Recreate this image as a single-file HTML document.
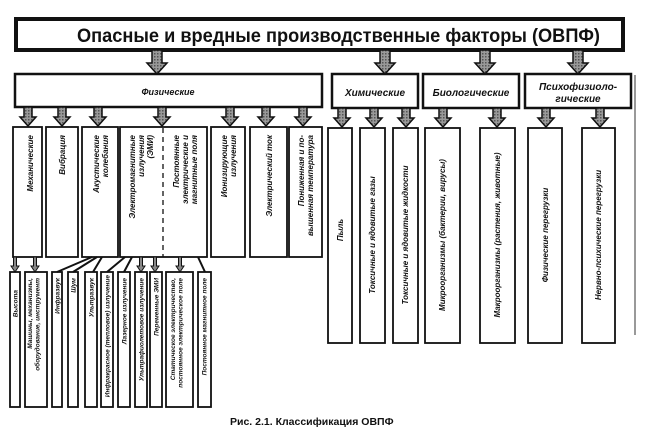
<!DOCTYPE html>
<html><head><meta charset="utf-8"><style>
html,body{margin:0;padding:0;background:#fff;}
svg{display:block;}
text{font-family:"Liberation Sans",sans-serif;font-weight:bold;fill:#111;}
.i{font-style:italic;}
</style></head><body>
<svg width="660" height="445" viewBox="0 0 660 445" xmlns="http://www.w3.org/2000/svg">
<defs>
<pattern id="h" width="3" height="3" patternUnits="userSpaceOnUse"><rect width="3" height="3" fill="#999"/><rect width="1.5" height="1.5" fill="#555"/></pattern>
<g id="A"><path d="M-5,0 H5 V13 H10 L0,24 L-10,13 H-5 Z" fill="url(#h)" stroke="#111" stroke-width="1.5"/></g>
<g id="a"><path d="M-4,0 H4 V10 H8 L0,19 L-8,10 H-4 Z" fill="url(#h)" stroke="#111" stroke-width="1.5"/></g>
<g id="s"><path d="M-1.5,0 H1.5 V9 H4 L0,15 L-4,9 H-1.5 Z" fill="#888" stroke="#111" stroke-width="1"/></g>
</defs>
<g fill="#fff" stroke="#111">
<rect x="16" y="19" width="607" height="31" stroke-width="4"/>
<rect x="15" y="74" width="307" height="33" stroke-width="2.5"/>
<rect x="332" y="74" width="86" height="34" stroke-width="2.5"/>
<rect x="423" y="74" width="96" height="34" stroke-width="2.5"/>
<rect x="525" y="74" width="106" height="34" stroke-width="2.5"/>
</g>
<text x="77" y="42" font-size="19" textLength="523" lengthAdjust="spacingAndGlyphs">Опасные и вредные производственные факторы (ОВПФ)</text>
<text class="i" x="168" y="95" text-anchor="middle" font-size="9">Физические</text>
<text class="i" x="375" y="96" text-anchor="middle" font-size="10">Химические</text>
<text class="i" x="471" y="96" text-anchor="middle" font-size="10">Биологические</text>
<text class="i" x="578" y="90" text-anchor="middle" font-size="10">Психофизиоло-</text>
<text class="i" x="578" y="102" text-anchor="middle" font-size="10">гические</text>
<use href="#A" x="157" y="50"/><use href="#A" x="385" y="50"/><use href="#A" x="485" y="50"/><use href="#A" x="578" y="50"/>
<g>
<use href="#a" x="28" y="107"/><use href="#a" x="62" y="107"/><use href="#a" x="98" y="107"/><use href="#a" x="162" y="107"/><use href="#a" x="230" y="107"/><use href="#a" x="266" y="107"/><use href="#a" x="303" y="107"/>
<use href="#a" x="342" y="108"/><use href="#a" x="374" y="108"/><use href="#a" x="406" y="108"/><use href="#a" x="443" y="108"/><use href="#a" x="497" y="108"/><use href="#a" x="546" y="108"/><use href="#a" x="600" y="108"/>
</g>
<g fill="#fff" stroke="#111" stroke-width="1.8">
<rect x="13" y="127" width="29" height="130"/>
<rect x="46" y="127" width="32" height="130"/>
<rect x="82" y="127" width="36" height="130"/>
<rect x="120" y="127" width="87" height="130"/>
<rect x="211" y="127" width="34" height="130"/>
<rect x="250" y="127" width="37" height="130"/>
<rect x="289" y="127" width="33" height="130"/>
<rect x="328" y="128" width="24" height="215"/>
<rect x="360" y="128" width="25" height="215"/>
<rect x="393" y="128" width="25" height="215"/>
<rect x="425" y="128" width="35" height="215"/>
<rect x="480" y="128" width="35" height="215"/>
<rect x="528" y="128" width="34" height="215"/>
<rect x="582" y="128" width="33" height="215"/>
<rect x="10" y="272" width="10" height="135"/>
<rect x="25" y="272" width="22" height="135"/>
<rect x="52" y="272" width="10" height="135"/>
<rect x="68" y="272" width="10" height="135"/>
<rect x="85" y="272" width="12" height="135"/>
<rect x="101" y="272" width="12" height="135"/>
<rect x="118" y="272" width="12" height="135"/>
<rect x="135" y="272" width="12" height="135"/>
<rect x="150" y="272" width="12" height="135"/>
<rect x="166" y="272" width="27" height="135"/>
<rect x="198" y="272" width="13" height="135"/>
</g>
<line x1="163" y1="128" x2="163" y2="257" stroke="#111" stroke-width="1.3" stroke-dasharray="5,4"/>
<line x1="635" y1="75" x2="635" y2="335" stroke="#333" stroke-width="1"/>
<g stroke="#111" stroke-width="2">
<line x1="92" y1="257" x2="57" y2="272"/><line x1="97" y1="257" x2="73" y2="272"/><line x1="102" y1="257" x2="93" y2="272"/>
<line x1="125" y1="257" x2="107" y2="272"/><line x1="132" y1="257" x2="124" y2="272"/><line x1="198" y1="257" x2="205" y2="272"/>
</g>
<use href="#s" x="15" y="257"/><use href="#s" x="35" y="257"/><use href="#s" x="141" y="257"/><use href="#s" x="155" y="257"/><use href="#s" x="180" y="257"/>
<g class="i" font-size="8" text-anchor="end">
<text transform="translate(30,135) rotate(-90)" dy="3">Механические</text>
<text transform="translate(62,135) rotate(-90)" dy="3">Вибрация</text>
<text transform="translate(100,135) rotate(-90)"><tspan x="0" dy="-1">Акустические</tspan><tspan x="0" dy="9">колебания</tspan></text>
<text transform="translate(141,135) rotate(-90)"><tspan x="0" dy="-6">Электромагнитные</tspan><tspan x="0" dy="9">излучения</tspan><tspan x="0" dy="9">(ЭМИ)</tspan></text>
<text transform="translate(185,135) rotate(-90)"><tspan x="0" dy="-6">Постоянные</tspan><tspan x="0" dy="9">электрические и</tspan><tspan x="0" dy="9">магнитные поля</tspan></text>
<text transform="translate(228,135) rotate(-90)"><tspan x="0" dy="-1">Ионизирующие</tspan><tspan x="0" dy="9">излучения</tspan></text>
<text transform="translate(269,135) rotate(-90)" dy="3">Электрический ток</text>
<text transform="translate(305,135) rotate(-90)"><tspan x="0" dy="-1">Пониженная и по-</tspan><tspan x="0" dy="9">вышенная температура</tspan></text>
</g>
<g class="i" font-size="8" text-anchor="middle">
<text transform="translate(340,230) rotate(-90)" dy="3">Пыль</text>
<text transform="translate(372,235) rotate(-90)" dy="3">Токсичные и ядовитые газы</text>
<text transform="translate(405,235) rotate(-90)" dy="3">Токсичные и ядовитые жидкости</text>
<text transform="translate(442,235) rotate(-90)" dy="3">Микроорганизмы (бактерии, вирусы)</text>
<text transform="translate(497,235) rotate(-90)" dy="3">Макроорганизмы (растения, животные)</text>
<text transform="translate(545,235) rotate(-90)" dy="3">Физические перегрузки</text>
<text transform="translate(598,235) rotate(-90)" dy="3">Нервно-психические перегрузки</text>
</g>
<g class="i" font-size="6.5" text-anchor="end">
<text transform="translate(15,290) rotate(-90)" dy="2.5">Высота</text>
<text transform="translate(36,278) rotate(-90)"><tspan x="0" dy="-4">Машины, механизмы,</tspan><tspan x="0" dy="7.5">оборудование, инструмент</tspan></text>
<text transform="translate(57,278) rotate(-90)" dy="2.5">Инфразвук</text>
<text transform="translate(73,278) rotate(-90)" dy="2.5">Шум</text>
<text transform="translate(91,278) rotate(-90)" dy="2.5">Ультразвук</text>
<text transform="translate(107,275) rotate(-90)" dy="2.5">Инфракрасное (тепловое) излучение</text>
<text transform="translate(124,278) rotate(-90)" dy="2.5">Лазерное излучение</text>
<text transform="translate(141,278) rotate(-90)" dy="2.5">Ультрафиолетовое излучение</text>
<text transform="translate(156,278) rotate(-90)" dy="2.5">Переменные ЭМИ</text>
<text transform="translate(179,278) rotate(-90)"><tspan x="0" dy="-4">Статическое электричество,</tspan><tspan x="0" dy="7.5">постоянное электрическое поле</tspan></text>
<text transform="translate(204,278) rotate(-90)" dy="2.5">Постоянное магнитное поле</text>
</g>
<text x="230" y="425" font-size="10.5">Рис. 2.1. Классификация ОВПФ</text>
</svg>
</body></html>
